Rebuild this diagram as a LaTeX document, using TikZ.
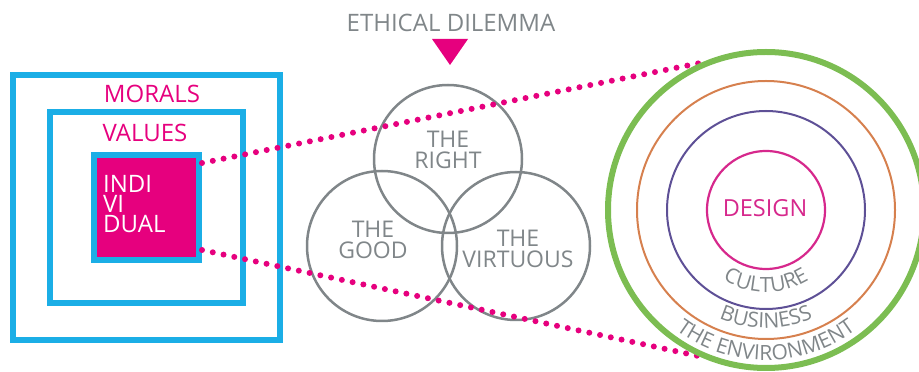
\documentclass[tikz,border=0pt]{standalone}
\usepackage{fontspec}
\setmainfont{Open Sans}
\usetikzlibrary{decorations.text,calc}
\definecolor{cblue}{RGB}{27,174,230}
\definecolor{cmag}{RGB}{230,0,126}
\definecolor{cgray}{RGB}{128,134,137}
\definecolor{cgreen}{RGB}{124,189,82}
\definecolor{corange}{RGB}{214,128,78}
\definecolor{cpurple}{RGB}{94,80,150}
\definecolor{cdesign}{RGB}{214,40,140}
\newcommand\arcfont{\fontsize{21}{21}\selectfont}
\pgfdeclarelayer{front}
\pgfsetlayers{main,front}
\begin{document}
\begin{tikzpicture}[x=1pt,y=1pt,
  frame/.style={draw=cblue,line width=6pt,inner sep=0pt},
  vennc/.style={circle,draw=cgray,line width=2.5pt,inner sep=0pt},
  ring/.style={circle,inner sep=0pt},
  mtext/.style={text=cmag,font=\fontsize{24}{24}\selectfont,inner sep=0pt,anchor=base},
  gtext/.style={text=cgray,font=\fontsize{23}{21}\selectfont,inner sep=0pt,align=center},
  dots/.style={cmag,line width=6pt,line cap=round,dash pattern=on 0pt off 11pt},
  arctext/.style={decorate,decoration={text along path,text color=cgray,text align=center,text={|\arcfont|#1}}}
]
\useasboundingbox (0,0) rectangle (919,372);
% nested boxes
\node[frame,minimum width=267pt,minimum height=265pt] (moral) at (146.5,164.5) {};
\node[frame,minimum width=193pt,minimum height=191pt] (value) at (146.5,164.5) {};
\node[frame,fill=cmag,minimum width=105pt,minimum height=105pt] (ind) at (146.5,164.5) {};
\node[mtext] (tmor) at (152,269) {MORALS};
\node[mtext] (tval) at (145,230) {VALUES};
\node[anchor=north west,align=left,inner sep=0pt,text=white,font=\fontsize{24}{20}\selectfont] (tind) at (103,197) {INDI\\VI\\DUAL};
% ethical dilemma
\node[text=cgray,font=\fontsize{24}{24}\selectfont,inner sep=0pt,anchor=base] (eth) at (451,340) {ETHICAL DILEMMA};
\fill[cmag] (432,333) -- (468,333) -- (450,307) -- cycle;
% venn
\node[vennc,minimum size=148pt] (right) at (448,213) {};
\node[vennc,minimum size=150pt] (good) at (382,126) {};
\node[vennc,minimum size=148pt] (virt) at (516,126) {};
\node[gtext] (tright) at (448,222) {THE\\RIGHT};
\node[gtext] (tgood) at (373,132.5) {THE\\GOOD};
\node[gtext] (tvirt) at (518,123) {THE\\VIRTUOUS};
% rings
\begin{pgfonlayer}{front}
\node[ring,draw=cgreen,line width=6pt,minimum size=316pt] (env) at (766,162) {};
\node[ring,draw=corange,line width=2pt,minimum size=258pt] (bus) at (766,162) {};
\node[ring,draw=cpurple,line width=2pt,minimum size=198pt] (cult) at (766,162) {};
\node[ring,draw=cdesign,line width=2.2pt,minimum size=118pt] (des) at (766,162) {};
\node[text=cdesign,font=\fontsize{23.5}{24}\selectfont,inner sep=0pt,anchor=base] (tdes) at (765,155) {DESIGN};
\path[arctext=CULTURE] (766,162) ++(200:82pt) arc[start angle=200,end angle=340,radius=82pt];
\path[arctext=BUSINESS] (766,162) ++(200:118pt) arc[start angle=200,end angle=340,radius=118pt];
\path[arctext=THE ENVIRONMENT] (766,162) ++(195:150pt) arc[start angle=195,end angle=345,radius=150pt];
\end{pgfonlayer}
% dotted connectors
\draw[dots] ($(ind.north east)+(0,-11)$) -- (env.114);
\draw[dots] ($(ind.south east)+(0,13)$) -- (env.245);
\end{tikzpicture}
\end{document}
